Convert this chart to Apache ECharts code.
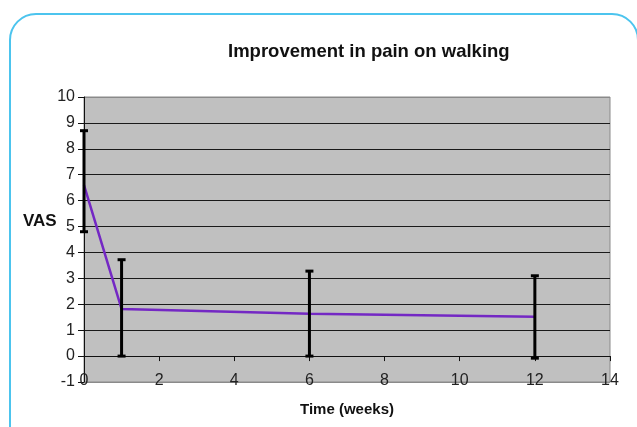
<!DOCTYPE html>
<html>
<head>
<meta charset="utf-8">
<script src="https://cdn.jsdelivr.net/npm/echarts@6/dist/echarts.min.js"></script>
<style>
  html, body { margin: 0; padding: 0; background: #fff; }
  #chart { width: 637px; height: 427px; }
</style>
</head>
<body>
<div id="chart"></div>
<script>
// Mean VAS score over time, with error bars (low / high ends)
const weeks = [0, 1, 6, 12];
const vasMean = [6.6, 1.82, 1.63, 1.52];
const barLow = [4.8, 0.0, 0.0, -0.08];
const barHigh = [8.7, 3.72, 3.28, 3.1];
const xTicks = [0, 2, 4, 6, 8, 10, 12, 14];
const yTicks = [-1, 0, 1, 2, 3, 4, 5, 6, 7, 8, 9, 10];

const chart = echarts.init(document.getElementById('chart'));

const labelFont = { fontFamily: 'Liberation Sans, Arial, sans-serif', fontSize: 16, color: '#222' };
const gridColors = yTicks.map(v => (v === -1 || v === 10) ? '#8a8a8a' : '#1a1a1a');

chart.setOption({
  backgroundColor: '#ffffff',
  animation: false,
  title: {
    text: 'Improvement in pain on walking',
    left: 223,
    top: 37,
    textStyle: { fontFamily: 'Liberation Sans, Arial, sans-serif', fontSize: 18.5, fontWeight: 'bold', color: '#111' }
  },
  graphic: [
    {
      type: 'rect',
      shape: { x: 10, y: 14, width: 628, height: 480, r: [26, 26, 0, 0] },
      style: { fill: 'none', stroke: '#4cc4ee', lineWidth: 2 },
      z: 0
    },
    {
      type: 'text',
      left: 23,
      top: 213,
      style: { text: 'VAS', font: 'bold 17px "Liberation Sans", Arial, sans-serif', fill: '#111' }
    }
  ],
  grid: {
    left: 84, right: 27, top: 97, bottom: 45,
    show: true,
    backgroundColor: '#c0c0c0',
    borderColor: '#8a8a8a',
    borderWidth: 1
  },
  xAxis: [
    {
      // axis line crossing at VAS = 0
      type: 'value', min: 0, max: 14, interval: 2,
      axisLine: { show: true, onZero: true, lineStyle: { color: '#111', width: 1 } },
      axisTick: { show: true, length: 5, lineStyle: { color: '#111' } },
      axisLabel: { show: false },
      splitLine: { show: false }
    },
    {
      // tick labels along the lower edge
      type: 'value', min: 0, max: 14, interval: 2, position: 'bottom',
      axisLine: { show: false, onZero: false },
      axisTick: { show: false },
      axisLabel: Object.assign({ margin: -9, formatter: v => xTicks.includes(v) ? String(v) : '' }, labelFont),
      splitLine: { show: false },
      name: 'Time (weeks)',
      nameLocation: 'middle',
      nameGap: 20,
      nameTextStyle: { fontFamily: 'Liberation Sans, Arial, sans-serif', fontSize: 15, fontWeight: 'bold', color: '#111' }
    }
  ],
  yAxis: {
    type: 'value', min: -1, max: 10, interval: 1,
    axisLine: { show: true, onZero: false, lineStyle: { color: '#111', width: 1 } },
    axisTick: { show: true, length: 6, lineStyle: { color: '#111' } },
    axisLabel: Object.assign({ margin: 9, formatter: v => yTicks.includes(v) ? String(v) : '' }, labelFont),
    splitLine: { show: true, lineStyle: { color: gridColors, width: 1 } }
  },
  series: [
    {
      type: 'line',
      xAxisIndex: 0,
      data: weeks.map((w, i) => [w, vasMean[i]]),
      showSymbol: false,
      symbol: 'none',
      lineStyle: { color: '#7428c4', width: 2.5 },
      z: 3
    },
    {
      type: 'custom',
      xAxisIndex: 0,
      data: weeks.map((w, i) => [w, barLow[i], barHigh[i]]),
      renderItem: function (params, api) {
        const x = api.value(0);
        const lo = api.coord([x, api.value(1)]);
        const hi = api.coord([x, api.value(2)]);
        const cap = 4;
        const st = { stroke: '#000', lineWidth: 3 };
        return {
          type: 'group',
          children: [
            { type: 'line', shape: { x1: hi[0], y1: hi[1], x2: lo[0], y2: lo[1] }, style: st },
            { type: 'line', shape: { x1: hi[0] - cap, y1: hi[1], x2: hi[0] + cap, y2: hi[1] }, style: st },
            { type: 'line', shape: { x1: lo[0] - cap, y1: lo[1], x2: lo[0] + cap, y2: lo[1] }, style: st }
          ]
        };
      },
      z: 4
    }
  ]
});
</script>
</body>
</html>
